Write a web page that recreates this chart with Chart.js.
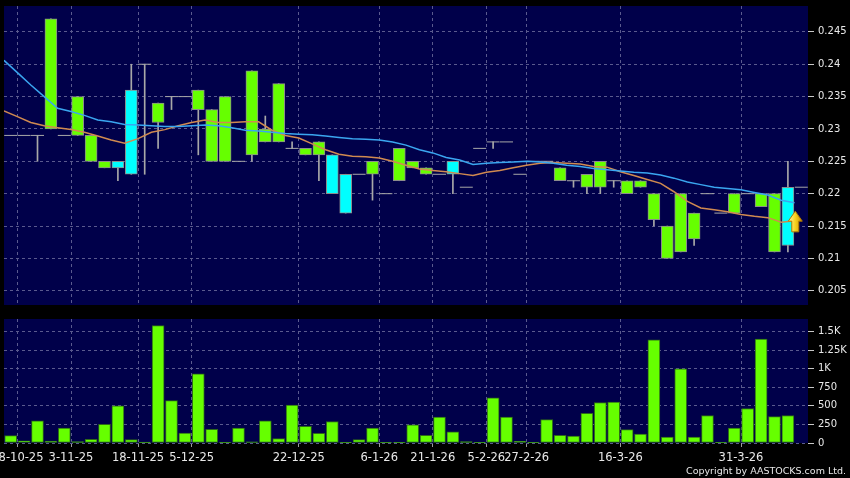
<!DOCTYPE html>
<html>
<head>
<meta charset="utf-8">
<script src="https://cdn.jsdelivr.net/npm/chart.js@4.4.1/dist/chart.umd.min.js"></script>
<style>
  html, body { margin:0; padding:0; background:#000; }
  #wrap { position:relative; width:850px; height:478px; overflow:hidden; background:#000; }
  #priceChart { position:absolute; left:0; top:0; }
  #volChart { position:absolute; left:0; top:310px; }
  #copy { position:absolute; right:4px; top:465px; font:9.5px "DejaVu Sans", sans-serif; color:#e8e8e8; white-space:nowrap; }
</style>
</head>
<body>
<div id="wrap">
  <canvas id="priceChart" width="850" height="310"></canvas>
  <canvas id="volChart" width="850" height="168"></canvas>
  <div id="copy">Copyright by AASTOCKS.com Ltd.</div>
</div>
<script>
// ── Data ──────────────────────────────────────────────────────────────────────
const opens  = [0.229,0.229,0.229,0.247,0.229,0.235,0.229,0.225,0.224,0.223,
                0.240,0.234,0.235,0.235,0.236,0.233,0.235,0.225,0.239,0.230,
                0.237,0.227,0.227,0.228,0.220,0.217,0.223,0.225,0.220,0.227,
                0.225,0.224,0.223,0.223,0.221,0.227,0.228,0.228,0.223,0.225,
                0.225,0.224,0.222,0.223,0.225,0.222,0.222,0.222,0.220,0.215,
                0.220,0.217,0.220,0.217,0.220,0.220,0.220,0.220,0.212,0.221];
const highs  = [0.229,0.229,0.229,0.247,0.229,0.235,0.229,0.225,0.225,0.240,
                0.240,0.234,0.235,0.235,0.236,0.233,0.235,0.225,0.239,0.232,
                0.237,0.228,0.227,0.228,0.226,0.223,0.223,0.225,0.220,0.227,
                0.225,0.224,0.223,0.225,0.221,0.227,0.228,0.228,0.223,0.225,
                0.225,0.224,0.222,0.223,0.225,0.222,0.222,0.222,0.220,0.215,
                0.220,0.217,0.220,0.217,0.220,0.220,0.220,0.220,0.225,0.221];
const lows   = [0.229,0.229,0.225,0.230,0.229,0.229,0.225,0.224,0.222,0.223,
                0.223,0.227,0.233,0.235,0.226,0.225,0.225,0.225,0.225,0.228,
                0.228,0.227,0.226,0.222,0.220,0.217,0.223,0.219,0.220,0.222,
                0.224,0.223,0.223,0.220,0.221,0.227,0.227,0.228,0.223,0.225,
                0.225,0.222,0.221,0.220,0.220,0.221,0.220,0.221,0.215,0.210,
                0.211,0.212,0.220,0.217,0.217,0.220,0.218,0.211,0.211,0.221];
const closes = [0.229,0.229,0.229,0.230,0.229,0.229,0.225,0.224,0.225,0.236,
                0.240,0.231,0.235,0.235,0.233,0.225,0.225,0.225,0.226,0.228,
                0.228,0.227,0.226,0.226,0.226,0.223,0.223,0.223,0.220,0.222,
                0.224,0.223,0.223,0.225,0.221,0.227,0.228,0.228,0.223,0.225,
                0.225,0.222,0.222,0.221,0.221,0.222,0.220,0.221,0.216,0.210,
                0.211,0.213,0.220,0.217,0.217,0.220,0.218,0.211,0.221,0.221];
const volumes = [100,30,300,25,200,18,50,250,500,45,
                 12,1580,570,135,930,185,5,200,15,300,
                 58,510,225,130,290,5,45,200,5,5,
                 245,103,350,150,18,3,610,350,22,2,
                 315,103,94,400,545,550,180,120,1390,80,
                 1000,80,370,8,200,465,1400,355,370,0];
// moving averages, one value per slot edge (left edge of the plot first)
const ma20 = [0.2406,0.2387,0.2368,0.2350,0.2332,0.2327,0.2321,0.2314,0.2311,0.2307,
              0.2306,0.2305,0.2304,0.2304,0.2305,0.2306,0.2305,0.2302,0.2298,0.2297,
              0.2295,0.2293,0.2292,0.2291,0.2289,0.2287,0.2285,0.2284,0.2283,0.2280,
              0.2275,0.2268,0.2263,0.2256,0.2252,0.2245,0.2247,0.2248,0.2249,0.2250,
              0.2249,0.2247,0.2244,0.2242,0.2239,0.2237,0.2235,0.2233,0.2232,0.2229,
              0.2224,0.2218,0.2214,0.2210,0.2208,0.2206,0.2202,0.2198,0.2190,0.2186];
const ma10 = [0.2328,0.2319,0.2310,0.2305,0.2302,0.2299,0.2295,0.2289,0.2283,0.2278,
              0.2285,0.2295,0.2299,0.2305,0.2310,0.2314,0.2310,0.2310,0.2311,0.2311,
              0.2298,0.2290,0.2286,0.2277,0.2268,0.2261,0.2258,0.2257,0.2255,0.2250,
              0.2244,0.2238,0.2236,0.2234,0.2231,0.2228,0.2233,0.2236,0.2240,0.2244,
              0.2247,0.2248,0.2247,0.2246,0.2242,0.2241,0.2234,0.2228,0.2222,0.2216,
              0.2203,0.2188,0.2178,0.2175,0.2172,0.2168,0.2165,0.2163,0.2156,0.2158];

const tickPos    = [0.5, 4.5, 9.5, 13.5, 21.5, 27.5, 31.5, 35.5, 38.5, 45.5, 54.5];
const tickLabels = ['28-10-25','3-11-25','18-11-25','5-12-25','22-12-25','6-1-26',
                    '21-1-26','5-2-26','27-2-26','16-3-26','31-3-26'];
const priceTicks = [0.205,0.21,0.215,0.22,0.225,0.23,0.235,0.24,0.245];
const volTicks      = [0,250,500,750,1000,1250,1500];
const volTickLabels = ['0','250','500','750','1K','1.25K','1.5K'];
const signal = { index:58.55, top:0.2173, bottom:0.2141 };

// ── Style ─────────────────────────────────────────────────────────────────────
const NAVY = '#00004a', GRID = '#5a5a8e', TXT = '#e8e8e8';
const UP = '#00ffff', DOWN = '#66ff00', EDGE = '#8c8c8c', WICK = '#a8a8a8';
const BLUE = '#3aa6f0', ORANGE = '#d08a50';

Chart.defaults.font.family = '"DejaVu Sans", sans-serif';
Chart.defaults.animation = false;

const plotBg = {
  id:'plotBg',
  beforeDraw(chart){
    const {ctx, chartArea:a} = chart;
    ctx.save();
    ctx.fillStyle = NAVY;
    ctx.fillRect(a.left, a.top, a.right - a.left, a.bottom - a.top);
    ctx.restore();
  }
};

const arrowMark = {
  id:'arrowMark',
  afterDatasetsDraw(chart){
    const {ctx, scales:{x, y}} = chart;
    const cx = x.getPixelForValue(signal.index);
    const y0 = y.getPixelForValue(signal.top), y1 = y.getPixelForValue(signal.bottom);
    const hw = 7, sw = 3.5, hh = 10;
    const g = ctx.createLinearGradient(cx - hw, 0, cx + hw, 0);
    g.addColorStop(0, '#fff6a8'); g.addColorStop(0.5, '#f7d21e'); g.addColorStop(1, '#c98a00');
    ctx.save();
    ctx.beginPath();
    ctx.moveTo(cx, y0);
    ctx.lineTo(cx + hw, y0 + hh); ctx.lineTo(cx + sw, y0 + hh); ctx.lineTo(cx + sw, y1);
    ctx.lineTo(cx - sw, y1); ctx.lineTo(cx - sw, y0 + hh); ctx.lineTo(cx - hw, y0 + hh);
    ctx.closePath();
    ctx.fillStyle = g; ctx.fill();
    ctx.strokeStyle = '#b07a00'; ctx.lineWidth = 1; ctx.stroke();
    ctx.restore();
  }
};

// ── Helpers ───────────────────────────────────────────────────────────────────
const idx = opens.map((_, i) => i);
const bodies = idx.filter(i => opens[i] !== closes[i]);
const flats  = idx.filter(i => opens[i] === closes[i]);
const wicks  = idx.filter(i => highs[i] > lows[i]);

const xScale = (showLabels) => ({
  type:'linear', min:-0.5, max:59.5, offset:false,
  afterBuildTicks: s => { s.ticks = tickPos.map(v => ({ value:v })); },
  afterFit: s => { s.height = showLabels ? 35 : 0; s.paddingLeft = 0; s.paddingRight = 0; },
  ticks:{ display:showLabels, autoSkip:false, maxRotation:0, color:TXT, font:{ size:11.5 }, padding:4,
          callback:(v, i) => tickLabels[i] },
  grid:{ color:GRID, offset:false, drawTicks:showLabels, tickLength:4, tickColor:'#9a9a9a' },
  border:{ display:false, dash:[3,3] }
});

const yScale = (min, max, ticks, labels) => ({
  position:'right', min, max,
  afterBuildTicks: s => { s.ticks = ticks.map(v => ({ value:v })); },
  afterFit: s => { s.width = 42; s.paddingTop = 0; s.paddingBottom = 0; },
  ticks:{ color:TXT, font:{ size:10 }, padding:4, callback:(v, i) => labels[i] },
  grid:{ color:GRID, tickLength:6, tickColor:'#c8c8c8' },
  border:{ display:false, dash:[3,3] }
});

// ── Price chart ───────────────────────────────────────────────────────────────
new Chart(document.getElementById('priceChart'), {
  type:'bar',
  data:{ datasets:[
    { type:'line', label:'MA20', data: ma20.map((v, k) => ({ x:k - 0.5, y:v })),
      borderColor:BLUE, borderWidth:1.5, pointRadius:0, order:0 },
    { type:'line', label:'MA10', data: ma10.map((v, k) => ({ x:k - 0.5, y:v })),
      borderColor:ORANGE, borderWidth:1.5, pointRadius:0, order:0 },
    { type:'line', label:'flat', data: flats.map(i => ({ x:i, y:opens[i] })), showLine:false,
      pointStyle:'line', pointRadius:6.5, pointBorderColor:WICK, pointBorderWidth:1, order:1 },
    { type:'bar', label:'body', data: bodies.map(i => ({ x:i, y:[opens[i], closes[i]] })),
      backgroundColor: bodies.map(i => closes[i] > opens[i] ? UP : DOWN),
      borderColor:EDGE, borderWidth:1, borderSkipped:false, barThickness:12, grouped:false, order:2 },
    { type:'bar', label:'wick', data: wicks.map(i => ({ x:i, y:[lows[i], highs[i]] })),
      backgroundColor:WICK, barThickness:1, grouped:false, order:3 }
  ]},
  options:{
    responsive:false,
    layout:{ autoPadding:false, padding:{ left:4, top:6, right:0, bottom:5 } },
    plugins:{ legend:{ display:false }, tooltip:{ enabled:false } },
    scales:{
      x: xScale(false),
      y: yScale(0.2028, 0.2490, priceTicks, priceTicks.map(String))
    }
  },
  plugins:[plotBg, arrowMark]
});

// ── Volume chart ──────────────────────────────────────────────────────────────
new Chart(document.getElementById('volChart'), {
  type:'bar',
  data:{ datasets:[
    { label:'Volume', data: volumes.map((v, i) => ({ x:i, y:v })),
      backgroundColor:DOWN, borderColor:'#2e6a18', borderWidth:1, borderSkipped:false,
      barThickness:12, grouped:false }
  ]},
  options:{
    responsive:false,
    layout:{ autoPadding:false, padding:{ left:4, top:9, right:0, bottom:0 } },
    plugins:{ legend:{ display:false }, tooltip:{ enabled:false } },
    scales:{
      x: xScale(true),
      y: yScale(0, 1670, volTicks, volTickLabels)
    }
  },
  plugins:[plotBg]
});
</script>
</body>
</html>
